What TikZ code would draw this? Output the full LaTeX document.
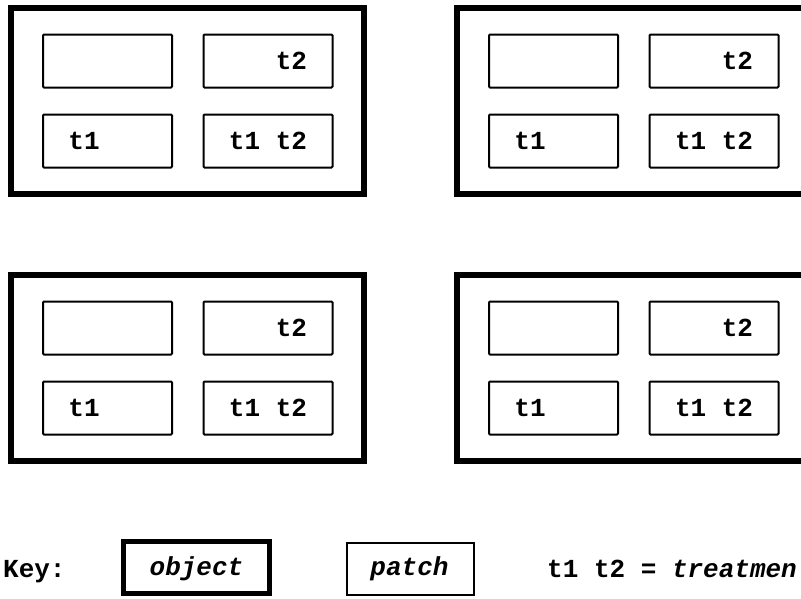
\documentclass[tikz,border=0pt]{standalone}
\usepackage{fontspec}
\setmainfont{Liberation Mono}
\begin{document}
\begin{tikzpicture}[x=1pt,y=-1pt,
  objectbox/.style={draw=black, line width=6pt, minimum width=353pt, minimum height=186pt, inner sep=0pt},
  patchbox/.style={draw=black, line width=2pt, rounded corners=1pt, minimum width=129pt, minimum height=53pt, inner sep=0pt,
    font=\fontsize{26}{30}\selectfont\bfseries},
  keyobject/.style={draw=black, line width=5pt, minimum width=146pt, minimum height=52pt, inner sep=0pt},
  keypatch/.style={draw=black, line width=2pt, minimum width=127pt, minimum height=52pt, inner sep=0pt},
  keytext/.style={inner sep=0pt, font=\fontsize{26}{30}\selectfont\bfseries},
  keyital/.style={inner sep=0pt, font=\fontsize{26}{30}\selectfont\bfseries\itshape}
]
\useasboundingbox (0,0) rectangle (801,598);
\clip (0,0) rectangle (801,598);
\fill[white] (0,0) rectangle (801,598);

% four objects, each holding four treatment patches
\foreach \dx/\dy/\k in {0/0/a, 446/0/b, 0/267/c, 446/267/d} {
  \begin{scope}[shift={(\dx,\dy)}]
    \node[objectbox] (obj-\k) at (187.5,101) {};
    \node[patchbox] (ctrl-\k) at (107.5,61) {};
    \node[patchbox] (ttwo-\k) at (268,61) {\phantom{t1} t2};
    \node[patchbox] (tone-\k) at (107.5,141) {t1 \phantom{t2}};
    \node[patchbox] (both-\k) at (268,141) {t1 t2};
  \end{scope}
}

% key
\node[keytext, anchor=base west] (keylabel) at (3,577) {Key:};
\node[keyobject] (keyobj) at (196.5,567.5) {};
\node[keyital, anchor=base] (keyobjtext) at (196.5,575.5) {object};
\node[keypatch] (keypat) at (410.5,569) {};
\node[keyital, anchor=base] (keypattext) at (409.5,575.5) {patch};
\node[keytext, anchor=base west] (keytreat) at (547,577) {t1 t2 = \textit{treatmen}};
\end{tikzpicture}
\end{document}
